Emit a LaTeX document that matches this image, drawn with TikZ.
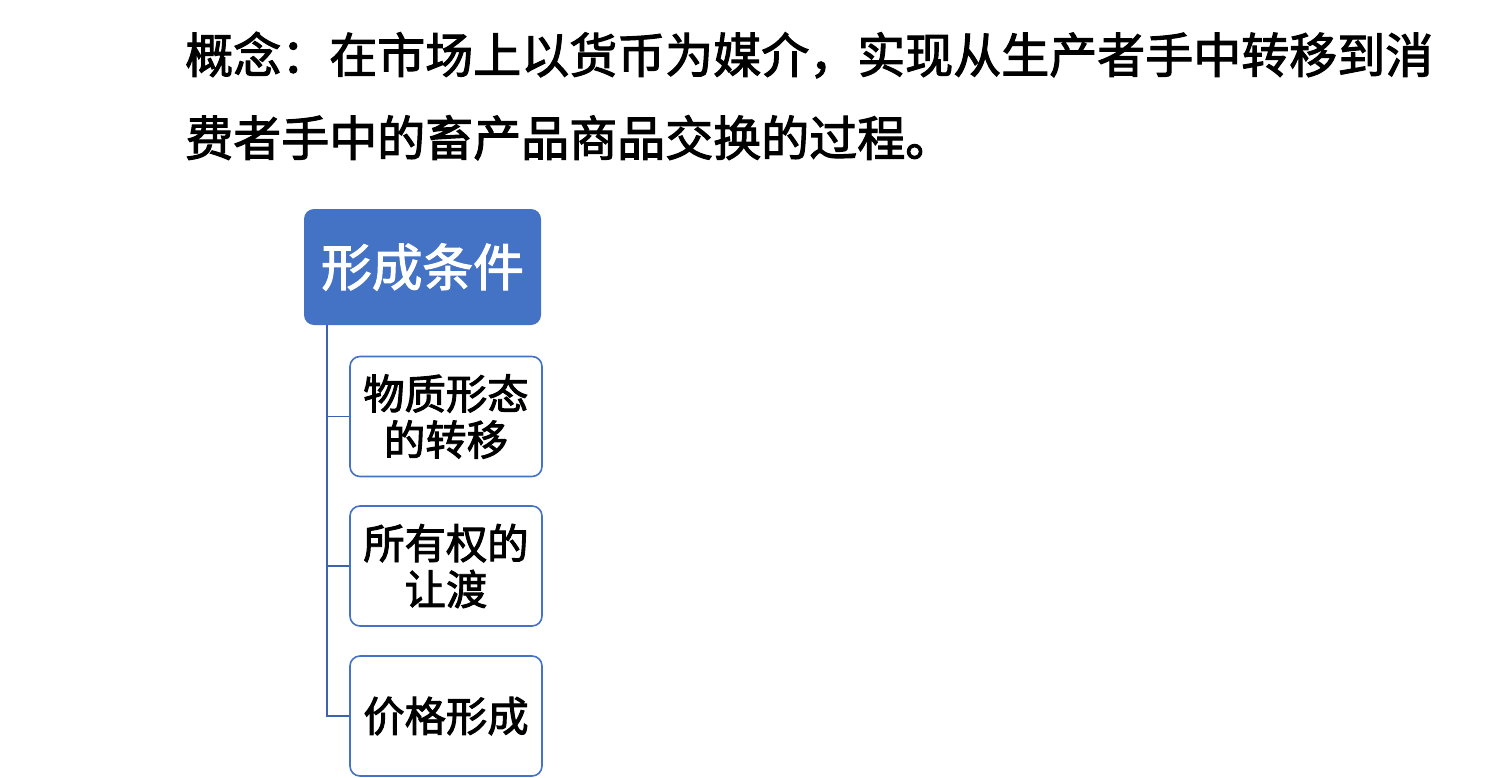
\documentclass[tikz,border=0pt]{standalone}
\usepackage{fontspec}
\newfontfamily\cjk{Noto Sans CJK SC}
\newfontfamily\cjkb[FakeBold=2.2]{Noto Sans CJK SC}
\definecolor{accent}{HTML}{4472C4}
\definecolor{linkc}{HTML}{3B63AE}
\begin{document}
\begin{tikzpicture}[x=0.75pt,y=-0.75pt,
  headbox/.style={draw=none,fill=accent,rounded corners=7.5pt,minimum width=177.75pt,minimum height=87pt,inner sep=0pt,
    text=white,font=\cjkb\fontsize{38}{44}\selectfont},
  childbox/.style={draw=accent,line width=1.2pt,fill=white,rounded corners=7.5pt,minimum width=144pt,minimum height=90pt,inner sep=0pt,
    align=center,text=black,font=\cjkb\fontsize{31}{34.5}\selectfont},
  link/.style={draw=linkc,line width=1.1pt}]
\useasboundingbox (0,0) rectangle (1486,778);
\node[anchor=base west,align=left,inner sep=0pt,font=\cjkb\fontsize{36}{62.25}\selectfont] (concept) at (185,156)
  {概念：在市场上以货币为媒介，实现从生产者手中转移到消\\费者手中的畜产品商品交换的过程。};
\node[headbox] (head) at (422.5,267) {形成条件};
\node[childbox] (c1) at (446,416.5) {物质形态\\的转移};
\node[childbox] (c2) at (446,566) {所有权的\\让渡};
\node[childbox] (c3) at (446,716) {价格形成};
\coordinate (trunk) at (327,325);
\draw[link] (trunk) |- (c3.west);
\draw[link] (trunk |- c1.west) -- (c1.west);
\draw[link] (trunk |- c2.west) -- (c2.west);
\end{tikzpicture}
\end{document}
